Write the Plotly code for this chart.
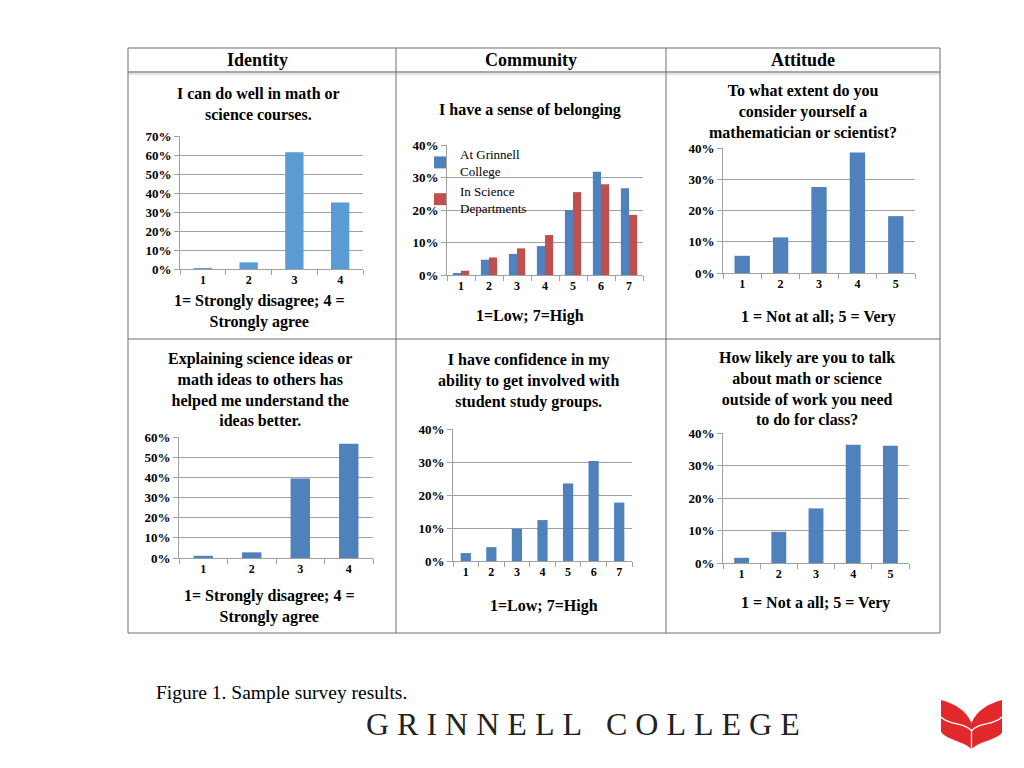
import plotly.graph_objects as go

# ---------------- data (percent of respondents) ----------------
cats4 = ["1", "2", "3", "4"]
cats5 = ["1", "2", "3", "4", "5"]
cats7 = ["1", "2", "3", "4", "5", "6", "7"]

identity_do_well = [0.3, 3.5, 61.5, 35.0]
belong_grinnell = [0.5, 4.7, 6.5, 8.9, 20.0, 31.8, 26.7]
belong_science = [1.3, 5.4, 8.2, 12.3, 25.5, 27.9, 18.5]
attitude_scientist = [5.5, 11.4, 27.5, 38.6, 18.2]
identity_explain = [1.1, 2.8, 39.4, 56.7]
community_groups = [2.4, 4.2, 9.8, 12.4, 23.5, 30.3, 17.7]
attitude_talk = [1.6, 9.6, 16.8, 36.4, 36.1]

ytick_vals_70 = [0, 10, 20, 30, 40, 50, 60, 70]
ytick_text_70 = ["0%", "10%", "20%", "30%", "40%", "50%", "60%", "70%"]
ytick_vals_60 = [0, 10, 20, 30, 40, 50, 60]
ytick_text_60 = ["0%", "10%", "20%", "30%", "40%", "50%", "60%"]
ytick_vals_40 = [0, 10, 20, 30, 40]
ytick_text_40 = ["0%", "10%", "20%", "30%", "40%"]

headers = ["Identity", "Community", "Attitude"]
titles = [
    "I can do well in math or<br>science courses.",
    "I have a sense of belonging",
    "To what extent do you<br>consider yourself a<br>mathematician or scientist?",
    "Explaining science ideas or<br>math ideas to others has<br>helped me understand the<br>ideas better.",
    "I have confidence in my<br>ability to get involved with<br>student study groups.",
    "How likely are you to talk<br>about math or science<br>outside of work you need<br>to do for class?",
]
xtitles = [
    "1= Strongly disagree; 4 =<br>Strongly agree",
    "1=Low; 7=High",
    "1 = Not at all; 5 = Very",
    "1= Strongly disagree; 4 =<br>Strongly agree",
    "1=Low; 7=High",
    "1 = Not a all; 5 = Very",
]
legend_names = ["At Grinnell<br>College", "In Science<br>Departments"]
caption = "Figure 1. Sample survey results."
brand = "GRINNELL COLLEGE"

# ---------------- layout helpers ----------------
W, H = 1024, 768
OFF = 8  # page body margin in the browser
def px(x): return (x - OFF) / W
def py(y): return 1 - (y - OFF) / H

BLUE = "#4F81BD"
LIGHTBLUE = "#5B9BD5"
RED = "#C0504D"
GRID = "#A0A0A0"
SERIF = "Liberation Serif"

# plot-area rectangles in pixels: (left, right, top, bottom), y ticks
panels = [
    dict(rect=(180, 363, 136, 269), ymax=70, tv=ytick_vals_70, tt=ytick_text_70),
    dict(rect=(447, 643, 145, 275), ymax=40, tv=ytick_vals_40, tt=ytick_text_40),
    dict(rect=(723, 915, 148, 273), ymax=40, tv=ytick_vals_40, tt=ytick_text_40),
    dict(rect=(179, 373, 437, 558), ymax=60, tv=ytick_vals_60, tt=ytick_text_60),
    dict(rect=(453, 632, 429, 561), ymax=40, tv=ytick_vals_40, tt=ytick_text_40),
    dict(rect=(723, 909, 433, 563), ymax=40, tv=ytick_vals_40, tt=ytick_text_40),
]
title_pos = [(258, 104), (530, 110), (803, 112), (260, 390), (528, 381), (807, 388)]
xtitle_pos = [(259, 312), (530, 316), (818, 317), (269, 606), (544, 606), (815, 603)]

fig = go.Figure()

def add_bar(i, cats, vals, color, name=None, width=0.4, offset=None, showlegend=False):
    kw = dict(x=cats, y=vals, marker=dict(color=color, line=dict(width=0)),
              width=width, xaxis=f"x{i}" if i > 1 else "x",
              yaxis=f"y{i}" if i > 1 else "y", showlegend=showlegend,
              hoverinfo="x+y")
    if offset is not None:
        kw["offset"] = offset
    if name:
        kw["name"] = name
    fig.add_trace(go.Bar(**kw))

add_bar(1, cats4, identity_do_well, LIGHTBLUE)
add_bar(2, cats7, belong_grinnell, BLUE, name=legend_names[0], width=0.29, offset=-0.29, showlegend=True)
add_bar(2, cats7, belong_science, RED, name=legend_names[1], width=0.29, offset=0.0, showlegend=True)
add_bar(3, cats5, attitude_scientist, BLUE)
add_bar(4, cats4, identity_explain, BLUE)
add_bar(5, cats7, community_groups, BLUE)
add_bar(6, cats5, attitude_talk, BLUE)

tickfont = dict(family=SERIF, size=13, color="black", weight="bold")
layout = dict(
    template="none",
    width=W, height=H, margin=dict(l=0, r=0, t=0, b=0, pad=0, autoexpand=False),
    paper_bgcolor="white", plot_bgcolor="white",
    barmode="overlay", bargap=0.6,
    legend=dict(x=px(420), y=py(139), xanchor="left", yanchor="top",
                bgcolor="rgba(0,0,0,0)", borderwidth=0,
                font=dict(family=SERIF, size=13, color="black"),
                itemwidth=30, tracegroupgap=1),
)
for i, p in enumerate(panels, start=1):
    l, r, t, b = p["rect"]
    sx = "" if i == 1 else str(i)
    layout[f"xaxis{sx}"] = dict(
        domain=[px(l), px(r)], anchor=f"y{sx}", type="category", automargin=False,
        showline=True, linecolor=GRID, linewidth=1,
        ticks="outside", tickson="boundaries", ticklen=5, tickcolor=GRID,
        showgrid=False, zeroline=False,
        tickfont=dict(family=SERIF, size=12, color="black", weight="bold"),
        fixedrange=True,
    )
    layout[f"yaxis{sx}"] = dict(
        domain=[py(b), py(t)], anchor=f"x{sx}", range=[0, p["ymax"]], automargin=False,
        tickmode="array", tickvals=p["tv"], ticktext=p["tt"],
        showline=True, linecolor=GRID, linewidth=1,
        ticks="outside", ticklen=5, tickcolor=GRID,
        showgrid=True, gridcolor=GRID, gridwidth=1, zeroline=False,
        tickfont=tickfont, fixedrange=True,
    )

annotations = []
for (x, y), txt in zip([(257, 60), (531, 60), (803, 60)], headers):
    annotations.append(dict(x=px(x), y=py(y), xref="paper", yref="paper", text=txt,
                            showarrow=False, xanchor="center", yanchor="middle",
                            font=dict(family=SERIF, size=18, color="black", weight="bold")))
for (x, y), txt in zip(title_pos, titles):
    annotations.append(dict(x=px(x), y=py(y), xref="paper", yref="paper", text=txt,
                            showarrow=False, xanchor="center", yanchor="middle", align="center",
                            font=dict(family=SERIF, size=16, color="black", weight="bold")))
for (x, y), txt in zip(xtitle_pos, xtitles):
    annotations.append(dict(x=px(x), y=py(y), xref="paper", yref="paper", text=txt,
                            showarrow=False, xanchor="center", yanchor="middle", align="center",
                            font=dict(family=SERIF, size=16, color="black", weight="bold")))
annotations.append(dict(x=px(154), y=py(692), xref="paper", yref="paper", text=caption,
                        showarrow=False, xanchor="left", yanchor="middle",
                        font=dict(family=SERIF, size=19.5, color="black")))
annotations.append(dict(x=px(583), y=py(724), xref="paper", yref="paper",
                        text="\u2005".join(brand),
                        showarrow=False, xanchor="center", yanchor="middle",
                        font=dict(family=SERIF, size=32, color="#222222")))
layout["annotations"] = annotations

LINE = "#6E6E6E"
def hline(y, x0, x1, color=LINE, w=1):
    return dict(type="line", xref="paper", yref="paper", x0=px(x0), x1=px(x1),
                y0=py(y), y1=py(y), line=dict(color=color, width=w))
def vline(x, y0, y1, color=LINE, w=1):
    return dict(type="line", xref="paper", yref="paper", x0=px(x), x1=px(x),
                y0=py(y0), y1=py(y1), line=dict(color=color, width=w))

shapes = [
    hline(48, 128, 940), hline(633, 128, 940), hline(339, 128, 940),
    hline(72, 128, 940, color="#8C8C8C", w=1.5),
    hline(74, 128, 940, color="#E4E4E4", w=2),
    vline(128, 48, 633), vline(940, 48, 633), vline(396, 48, 633), vline(666, 48, 633),
]

def path(points_cmds):
    out = []
    for cmd in points_cmds:
        if isinstance(cmd, str):
            out.append(cmd)
        else:
            out.append(f"{px(cmd[0]):.5f},{py(cmd[1]):.5f}")
    return " ".join(out)

logo = path(["M", (941, 700), "C", (955, 704), (966, 710), (971.5, 723),
             "C", (977, 710), (988, 704), (1002, 700),
             "L", (1002, 733), "C", (996, 740), (980, 741), (971.5, 749),
             "C", (963, 741), (947, 740), (941, 732), "Z"])
shapes.append(dict(type="path", xref="paper", yref="paper", path=logo,
                   fillcolor="#E2282B", line=dict(width=0)))
for side in (-1, 1):
    wl = path(["M", (971.5 + side * 30.5, 717), "C", (971.5 + side * 22, 726),
               (971.5 + side * 6, 722), (971.5, 731)])
    shapes.append(dict(type="path", xref="paper", yref="paper", path=wl,
                       line=dict(color="white", width=1.3)))
shapes.append(dict(type="path", xref="paper", yref="paper",
                   path=path(["M", (971.5, 729), "L", (971.5, 749)]),
                   line=dict(color="white", width=1.3)))
layout["shapes"] = shapes

fig.update_layout(**layout)
fig.write_html("out.html")
